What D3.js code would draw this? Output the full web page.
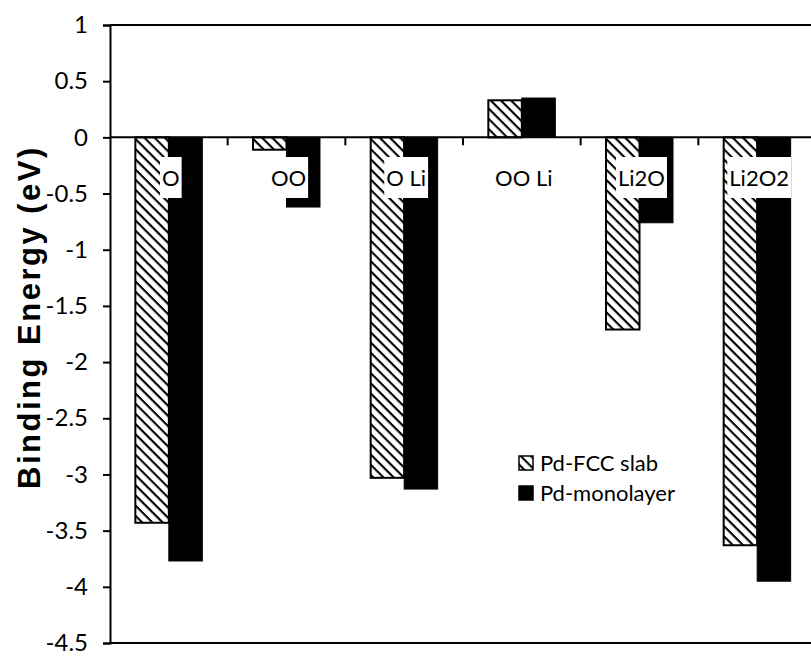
<!DOCTYPE html>
<html>
<head>
<meta charset="utf-8">
<script src="https://cdn.jsdelivr.net/npm/d3@7"></script>
<style>
  body { margin: 0; background: #fff; }
  text { font-family: Lato, "Open Sans", sans-serif; fill: #000; }
</style>
</head>
<body>
<svg id="chart"></svg>
<script>
// chart data
const categories = ["O", "OO", "O Li", "OO Li", "Li2O", "Li2O2"];
const series = ["Pd-FCC slab", "Pd-monolayer"];
const slabValues = [-3.43, -0.11, -3.03, 0.33, -1.71, -3.63];
const monoValues = [-3.77, -0.62, -3.13, 0.35, -0.76, -3.95];
const yTicks = [1, 0.5, 0, -0.5, -1, -1.5, -2, -2.5, -3, -3.5, -4, -4.5];

const width = 811, height = 656;
const plotLeft = 110, plotRight = 816, plotTop = 25, plotBottom = 643;

const svg = d3.select("#chart")
  .attr("width", width)
  .attr("height", height);

// hatch for the slab series
const defs = svg.append("defs");
const hatch = defs.append("pattern")
  .attr("id", "hatch")
  .attr("patternUnits", "userSpaceOnUse")
  .attr("width", 7.2)
  .attr("height", 7.2)
  .attr("patternTransform", "rotate(45)");
hatch.append("rect").attr("width", 7.2).attr("height", 7.2).attr("fill", "#fff");
hatch.append("line")
  .attr("x1", 0).attr("y1", 0).attr("x2", 7.2).attr("y2", 0)
  .attr("stroke", "#000").attr("stroke-width", 4.2);

const rows = categories.map((c, i) => ({cat: c, values: [slabValues[i], monoValues[i]]}));

const x0 = d3.scaleBand().domain(categories).range([plotLeft, plotRight]);
const x1 = d3.scaleBand().domain(series).range([0, x0.bandwidth()]).paddingOuter(0.757);
const y = d3.scaleLinear().domain([-4.5, 1]).range([plotBottom, plotTop]);

// frame top / bottom
svg.append("line")
  .attr("x1", plotLeft).attr("x2", width).attr("y1", y(1)).attr("y2", y(1))
  .attr("stroke", "#000").attr("stroke-width", 2);
svg.append("line")
  .attr("x1", plotLeft).attr("x2", width).attr("y1", y(-4.5)).attr("y2", y(-4.5))
  .attr("stroke", "#000").attr("stroke-width", 2);

// bars
const groups = svg.append("g")
  .selectAll("g")
  .data(rows)
  .join("g")
  .attr("transform", d => `translate(${x0(d.cat)},0)`);

groups.selectAll("rect")
  .data(d => d.values.map((v, i) => ({key: series[i], value: v})))
  .join("rect")
  .attr("x", d => x1(d.key))
  .attr("width", x1.bandwidth())
  .attr("y", d => y(Math.max(0, d.value)))
  .attr("height", d => Math.abs(y(d.value) - y(0)))
  .attr("fill", d => d.key === series[0] ? "url(#hatch)" : "#000")
  .attr("stroke", "#000")
  .attr("stroke-width", d => d.key === series[0] ? 2 : 1);

// y axis
const yAxis = svg.append("g")
  .attr("transform", `translate(${plotLeft},0)`)
  .call(d3.axisLeft(y).tickValues(yTicks).tickSize(7).tickPadding(15).tickFormat(d => String(d)));
yAxis.select(".domain").attr("stroke-width", 2);
yAxis.selectAll(".tick line").attr("stroke-width", 2);
yAxis.selectAll(".tick text")
  .style("font-size", "24px")
  .style("font-family", "Lato, sans-serif");

// zero line with category separators
svg.append("line")
  .attr("x1", plotLeft).attr("x2", width).attr("y1", y(0)).attr("y2", y(0))
  .attr("stroke", "#000").attr("stroke-width", 2);
svg.append("g")
  .selectAll("line")
  .data(categories.slice(1))
  .join("line")
  .attr("x1", d => x0(d)).attr("x2", d => x0(d))
  .attr("y1", y(0)).attr("y2", y(0) + 8)
  .attr("stroke", "#000").attr("stroke-width", 2);

// category labels with white boxes
const labels = svg.append("g")
  .selectAll("g")
  .data(categories)
  .join("g")
  .attr("transform", d => `translate(${x0(d) + x0.bandwidth() / 2 + 2},178)`);
labels.append("text")
  .attr("text-anchor", "middle")
  .attr("dy", "0.35em")
  .style("font-size", "22px")
  .text(d => d);
labels.each(function() {
  const g = d3.select(this);
  const bb = g.select("text").node().getBBox();
  g.insert("rect", "text")
    .attr("x", bb.x - 2).attr("width", bb.width + 4)
    .attr("y", -21).attr("height", 41)
    .attr("fill", "#fff");
});

// y title
svg.append("text")
  .attr("transform", "translate(40,317) rotate(-90)")
  .attr("text-anchor", "middle")
  .style("font-family", "'Liberation Sans', Arial, sans-serif")
  .style("font-weight", "bold")
  .style("font-size", "31px")
  .style("letter-spacing", "2.5px")
  .text("Binding Energy (eV)");

// legend
const legend = svg.append("g")
  .selectAll("g")
  .data(series)
  .join("g")
  .attr("transform", (d, i) => `translate(519,${463 + i * 30})`);
legend.append("rect")
  .attr("x", 0).attr("y", -7).attr("width", 14).attr("height", 14)
  .attr("fill", (d, i) => i === 0 ? "url(#hatch)" : "#000")
  .attr("stroke", "#000").attr("stroke-width", 1.5);
legend.append("text")
  .attr("x", 21)
  .attr("dy", "0.35em")
  .style("font-size", "22px")
  .text(d => d);
</script>
</body>
</html>
